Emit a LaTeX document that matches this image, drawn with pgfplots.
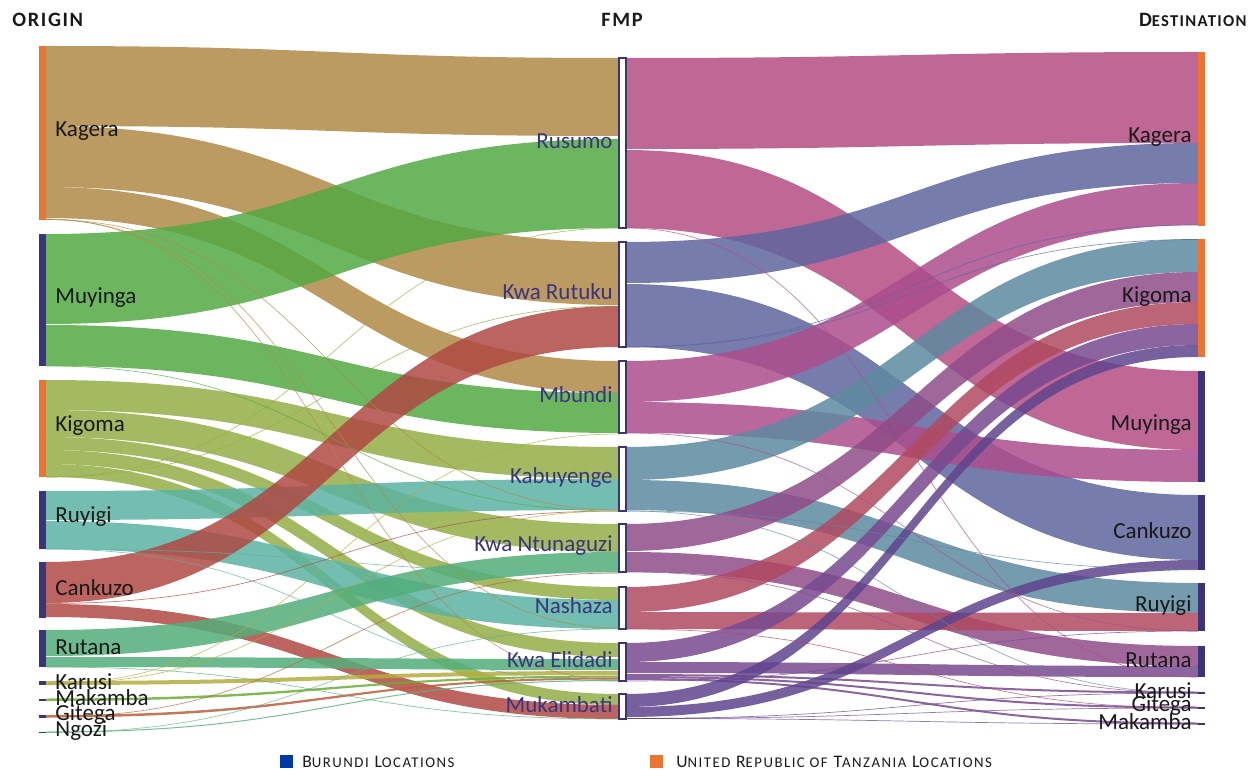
\documentclass[border=0pt]{standalone}
\usepackage{fontspec}
\setmainfont{Carlito}
\usepackage{pgfplots}
\pgfplotsset{compat=1.18}

% origin-link colours
\definecolor{cKag}{RGB}{175,137,71}
\definecolor{cMuy}{RGB}{84,169,68}
\definecolor{cKig}{RGB}{147,173,70}
\definecolor{cRuy}{RGB}{90,179,162}
\definecolor{cCan}{RGB}{176,73,67}
\definecolor{cRut}{RGB}{84,173,122}
\definecolor{cKar}{RGB}{179,173,61}
\definecolor{cMak}{RGB}{108,173,49}
\definecolor{cGit}{RGB}{184,96,61}
\definecolor{cNgo}{RGB}{96,179,132}
% FMP-link colours
\definecolor{cRus}{RGB}{180,76,131}
\definecolor{cKR}{RGB}{94,101,157}
\definecolor{cMbu}{RGB}{171,77,140}
\definecolor{cKab}{RGB}{93,137,160}
\definecolor{cNtu}{RGB}{143,76,137}
\definecolor{cNas}{RGB}{176,73,96}
\definecolor{cEli}{RGB}{120,73,143}
\definecolor{cMuk}{RGB}{94,68,141}
% nodes
\definecolor{tzOrange}{RGB}{237,116,48}
\definecolor{buNavy}{RGB}{59,52,122}
\definecolor{fmpText}{RGB}{58,52,128}
\definecolor{legBlue}{RGB}{0,56,166}
\definecolor{txt}{RGB}{25,25,25}

% flow from origin (x=46) to FMP (x=619)
\newcommand{\flowL}[5]{\addplot[draw=none,fill=#5,fill opacity=0.85,forget plot] coordinates {(46,#1)} .. controls (332.5,#1) and (332.5,#3) .. (619,#3) -- (619,#4) .. controls (332.5,#4) and (332.5,#2) .. (46,#2) -- cycle;}
% flow from FMP (x=626) to destination (x=1198)
\newcommand{\flowR}[5]{\addplot[draw=none,fill=#5,fill opacity=0.85,forget plot] coordinates {(626,#1)} .. controls (912,#1) and (912,#3) .. (1198,#3) -- (1198,#4) .. controls (912,#4) and (912,#2) .. (626,#2) -- cycle;}
% thin links
\newcommand{\thinL}[3]{\addplot[draw=#3,line width=0.35pt,draw opacity=0.7,forget plot] coordinates {(46,#1)} .. controls (332.5,#1) and (332.5,#2) .. (619,#2);}
\newcommand{\thinR}[3]{\addplot[draw=#3,line width=0.35pt,draw opacity=0.7,forget plot] coordinates {(626,#1)} .. controls (912,#1) and (912,#2) .. (1198,#2);}
% node bar
\newcommand{\nbar}[5]{\addplot[draw=none,fill=#5,forget plot] coordinates {(#1,#3) (#2,#3) (#2,#4) (#1,#4)} -- cycle;}
\newcommand{\fmpbox}[2]{\addplot[draw=buNavy,line width=0.6pt,fill=white,forget plot] coordinates {(619,#1) (626,#1) (626,#2) (619,#2)} -- cycle;}

\newcommand{\lab}{\fontsize{11.5}{13}\selectfont}
\newcommand{\hdr}{\fontsize{10.2}{12}\selectfont\bfseries\addfontfeature{LetterSpace=8}}
\newcommand{\hsc}[1]{{\fontsize{8.3}{10}\selectfont #1}}
\newcommand{\leg}{\fontsize{8.8}{10}\selectfont\addfontfeature{LetterSpace=10}}
\newcommand{\lsc}[1]{{\fontsize{7.4}{9}\selectfont #1}}

\begin{document}
\begin{tikzpicture}
\begin{axis}[
  name=ax,
  scale only axis, width=624.5pt, height=385pt,
  xmin=0, xmax=1249, ymin=0, ymax=770, y dir=reverse,
  hide axis, clip=false, no markers,
]
% ---------- origin -> FMP ----------
\flowL{46}{126}{58}{136}{cKag}
\flowL{126}{187}{242}{305}{cKag}
\flowL{187}{218}{361}{393}{cKag}
\flowL{234}{324}{139}{228}{cMuy}
\flowL{325}{366}{393}{433}{cMuy}
\flowL{380}{410}{447}{479}{cKig}
\flowL{410}{437}{524}{552}{cKig}
\flowL{437}{450}{587}{600}{cKig}
\flowL{450}{464}{643}{657}{cKig}
\flowL{464}{477}{694}{705}{cKig}
\flowL{491}{520}{479}{510}{cRuy}
\flowL{521}{549}{600}{629}{cRuy}
\flowL{562}{603}{306}{347}{cCan}
\flowL{604}{617}{705}{719}{cCan}
\flowL{630}{656}{552}{572}{cRut}
\flowL{657}{667}{659}{670}{cRut}
\flowL{681}{685}{671}{675}{cKar}
\flowL{698.5}{701}{675.5}{677.5}{cMak}
\flowL{715}{717.5}{677.5}{679.5}{cGit}
\flowL{731.5}{732.5}{680}{681}{cNgo}
% thin origin links
\thinL{219.5}{510}{cKag}
\thinL{219.5}{628}{cKag}
\thinL{219}{680}{cKag}
\thinL{366}{511}{cMuy}
\thinL{477}{306}{cKig}
\thinL{477}{228}{cKig}
\thinL{549}{573}{cRuy}
\thinL{549}{681}{cRuy}
\thinL{603.5}{511}{cCan}
\thinL{667}{719}{cRut}
\thinL{684}{511}{cKar}
\thinL{684}{434}{cKar}
\thinL{717}{573}{cGit}
\thinL{732.5}{629}{cNgo}
% ---------- FMP -> destination ----------
\flowR{58}{149}{52}{143}{cRus}
\flowR{150}{228}{371}{450}{cRus}
\flowR{242}{283}{143}{183}{cKR}
\flowR{284}{347}{495}{560}{cKR}
\flowR{361}{402}{183}{225}{cMbu}
\flowR{402}{433}{450}{482}{cMbu}
\flowR{447}{480}{239}{272}{cKab}
\flowR{480}{510}{583}{613}{cKab}
\flowR{524}{551}{272}{302}{cNtu}
\flowR{552}{572}{646}{666}{cNtu}
\flowR{587}{612}{302}{324}{cNas}
\flowR{612}{629}{613}{631}{cNas}
\flowR{643}{662}{324}{345}{cEli}
\flowR{662}{673}{666}{677}{cEli}
\flowR{674}{676}{691.5}{693.5}{cEli}
\flowR{676}{678}{706.5}{708.5}{cEli}
\flowR{678}{680}{722.5}{724.5}{cEli}
\flowR{694}{707}{345}{357}{cMuk}
\flowR{707}{717}{560}{570}{cMuk}
% thin FMP links
\thinR{228}{677}{cRus}
\thinR{347}{239.5}{cKR}
\thinR{347}{225}{cKR}
\thinR{511}{569.5}{cKab}
\thinR{511}{693}{cKab}
\thinR{433}{631}{cMbu}
\thinR{572}{693}{cNtu}
\thinR{629}{708}{cNas}
\thinR{718.5}{693}{cMuk}
\thinR{718.5}{708}{cMuk}
\thinR{718.5}{724}{cMuk}
\thinR{681}{631}{cEli}
% ---------- nodes ----------
\nbar{39}{46}{46}{220}{tzOrange}
\nbar{39}{46}{234}{366}{buNavy}
\nbar{39}{46}{380}{477}{tzOrange}
\nbar{39}{46}{491}{549}{buNavy}
\nbar{39}{46}{562}{618}{buNavy}
\nbar{39}{46}{630}{667}{buNavy}
\nbar{39}{46}{681}{685}{buNavy}
\nbar{39}{46}{698.5}{701}{buNavy}
\nbar{39}{46}{715}{717.5}{buNavy}
\nbar{39}{46}{731.5}{733}{buNavy}
\fmpbox{58}{228}
\fmpbox{242}{347}
\fmpbox{361}{433}
\fmpbox{447}{511}
\fmpbox{524}{572}
\fmpbox{587}{629}
\fmpbox{643}{681}
\fmpbox{694}{719}
\nbar{1198}{1205}{52}{226}{tzOrange}
\nbar{1198}{1205}{239}{357}{tzOrange}
\nbar{1198}{1205}{371}{482}{buNavy}
\nbar{1198}{1205}{495}{570}{buNavy}
\nbar{1198}{1205}{583}{631}{buNavy}
\nbar{1198}{1205}{646}{677}{buNavy}
\nbar{1198}{1205}{691.5}{693.5}{buNavy}
\nbar{1198}{1205}{706.5}{708.5}{buNavy}
\nbar{1198}{1205}{722.5}{724.5}{buNavy}
% legend squares
\nbar{280}{293}{755}{768}{legBlue}
\nbar{650}{663}{755}{768}{tzOrange}
% ---------- labels ----------
\begin{scope}[every node/.style={font=\lab,text=txt,inner sep=0pt}]
\node[anchor=west] at (axis cs:55,131) {Kagera};
\node[anchor=west] at (axis cs:55,298) {Muyinga};
\node[anchor=west] at (axis cs:55,426) {Kigoma};
\node[anchor=west] at (axis cs:55,517) {Ruyigi};
\node[anchor=west] at (axis cs:55,588) {Cankuzo};
\node[anchor=west] at (axis cs:55,647) {Rutana};
\node[anchor=west] at (axis cs:55,682) {Karusi};
\node[anchor=west] at (axis cs:55,698) {Makamba};
\node[anchor=west] at (axis cs:55,715) {Gitega};
\node[anchor=west] at (axis cs:55,731) {Ngozi};
\node[anchor=east] at (axis cs:1192,137) {Kagera};
\node[anchor=east] at (axis cs:1192,297) {Kigoma};
\node[anchor=east] at (axis cs:1192,425) {Muyinga};
\node[anchor=east] at (axis cs:1192,531) {Cankuzo};
\node[anchor=east] at (axis cs:1192,606) {Ruyigi};
\node[anchor=east] at (axis cs:1192,660) {Rutana};
\node[anchor=east] at (axis cs:1192,691) {Karusi};
\node[anchor=east] at (axis cs:1192,706) {Gitega};
\node[anchor=east] at (axis cs:1192,722) {Makamba};
\end{scope}
\begin{scope}[every node/.style={font=\lab,text=fmpText,inner sep=0pt,anchor=east}]
\node at (axis cs:613,141) {Rusumo};
\node at (axis cs:613,292) {Kwa Rutuku};
\node at (axis cs:613,395) {Mbundi};
\node at (axis cs:613,477) {Kabuyenge};
\node at (axis cs:613,546) {Kwa Ntunaguzi};
\node at (axis cs:613,606) {Nashaza};
\node at (axis cs:613,660) {Kwa Elidadi};
\node at (axis cs:613,705) {Mukambati};
\end{scope}
% headers
\node[anchor=base west,inner sep=0pt,text=txt,font=\hdr] at (axis cs:12,27) {ORIGIN};
\node[anchor=base,inner sep=0pt,text=txt,font=\hdr] at (axis cs:622,27) {FMP};
\node[anchor=base east,inner sep=0pt,text=txt,font=\hdr] at (axis cs:1247,27) {D\hsc{ESTINATION}};
% legend text
\node[anchor=base west,inner sep=0pt,text=txt,font=\leg] at (axis cs:302,767) {B\lsc{URUNDI} L\lsc{OCATIONS}};
\node[anchor=base west,inner sep=0pt,text=txt,font=\leg] at (axis cs:676,767) {U\lsc{NITED} R\lsc{EPUBLIC OF} T\lsc{ANZANIA} L\lsc{OCATIONS}};
\end{axis}
\pgfresetboundingbox
\useasboundingbox (ax.south west) rectangle (ax.north east);
\end{tikzpicture}
\end{document}
